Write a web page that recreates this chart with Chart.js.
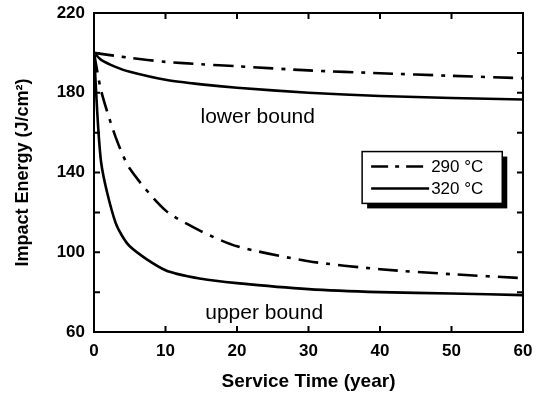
<!DOCTYPE html>
<html>
<head>
<meta charset="utf-8">
<script src="https://cdn.jsdelivr.net/npm/chart.js@4/dist/chart.umd.min.js"></script>
<style>
  html, body { margin: 0; padding: 0; background: #fff; }
  #wrap { width: 541px; height: 399px; position: relative; }
</style>
</head>
<body>
<div id="wrap"><canvas id="c" width="541" height="399"></canvas></div>
<script>
// ---- data ----
const serviceYears = [0, 1, 3, 5, 10, 15, 20, 30, 40, 50, 60];
const lowerBound290 = [200, 199.5, 198.5, 197.5, 195.5, 194.3, 193.3, 191.2, 189.8, 188.5, 187.3];
const lowerBound320 = [200, 196.5, 193, 190.5, 186.5, 184.2, 182.5, 180, 178.4, 177.4, 176.6];
const upperBound290 = [200, 181, 158, 142, 121, 110.5, 103, 95.5, 91.5, 89, 87];
const upperBound320 = [200, 145, 115, 103, 91, 86.7, 84.5, 81.5, 80, 79.3, 78.5];
const xTicks = [0, 10, 20, 30, 40, 50, 60];
const yTickLabels = [60, 100, 140, 180, 220];
const legendLabels = ['290 \u00B0C', '320 \u00B0C'];
const boundLabels = ['lower bound', 'upper bound'];

const FONT = '"Liberation Sans", Arial, Helvetica, sans-serif';
const DASHDOT = [20, 8, 4, 8];

function pts(ys) { return serviceYears.map((x, i) => ({ x: x, y: ys[i] })); }

const frameAndExtras = {
  id: 'frameAndExtras',
  afterDatasetsDraw(chart) {
    const ctx = chart.ctx;
    const a = chart.chartArea;
    const xs = chart.scales.x, ys = chart.scales.y;
    ctx.save();
    ctx.strokeStyle = '#000';
    ctx.lineWidth = 2;
    ctx.strokeRect(a.left, a.top, a.right - a.left, a.bottom - a.top);
    // inward ticks on all four sides
    const tl = 6;
    ctx.beginPath();
    xs.ticks.forEach(t => {
      const px = xs.getPixelForValue(t.value);
      ctx.moveTo(px, a.bottom); ctx.lineTo(px, a.bottom - tl);
      ctx.moveTo(px, a.top); ctx.lineTo(px, a.top + tl);
    });
    ys.ticks.forEach(t => {
      const py = ys.getPixelForValue(t.value);
      ctx.moveTo(a.left, py); ctx.lineTo(a.left + tl, py);
      ctx.moveTo(a.right, py); ctx.lineTo(a.right - tl, py);
    });
    ctx.stroke();

    // bound annotations
    ctx.fillStyle = '#000';
    ctx.font = '21px ' + FONT;
    ctx.textAlign = 'center';
    ctx.textBaseline = 'middle';
    ctx.fillText(boundLabels[0], xs.getPixelForValue(22.9), ys.getPixelForValue(167.8));
    ctx.fillText(boundLabels[1], xs.getPixelForValue(23.8), ys.getPixelForValue(69.5));

    // legend box with shadow
    const lx = xs.getPixelForValue(37.5), rx = xs.getPixelForValue(57.1);
    const ty = ys.getPixelForValue(150.5), by = ys.getPixelForValue(124.5);
    ctx.fillStyle = '#000';
    ctx.fillRect(lx + 5, ty + 5, rx - lx, by - ty);
    ctx.fillStyle = '#fff';
    ctx.fillRect(lx, ty, rx - lx, by - ty);
    ctx.lineWidth = 1.5;
    ctx.strokeRect(lx, ty, rx - lx, by - ty);
    const rows = [ys.getPixelForValue(143), ys.getPixelForValue(132)];
    ctx.font = '17px ' + FONT;
    ctx.textAlign = 'left';
    ctx.fillStyle = '#000';
    [0, 1].forEach(i => {
      ctx.beginPath();
      ctx.lineWidth = 2.5;
      ctx.setLineDash(i === 0 ? [17, 7, 4, 7] : []);
      ctx.moveTo(lx + 9, rows[i]);
      ctx.lineTo(lx + 67, rows[i]);
      ctx.stroke();
      ctx.setLineDash([]);
      ctx.fillText(legendLabels[i], lx + 69, rows[i] + 1);
    });
    ctx.restore();
  }
};

new Chart(document.getElementById('c'), {
  type: 'line',
  data: {
    datasets: [
      { label: legendLabels[0], data: pts(lowerBound290), borderDash: DASHDOT },
      { label: legendLabels[1], data: pts(lowerBound320) },
      { label: legendLabels[0], data: pts(upperBound290), borderDash: DASHDOT },
      { label: legendLabels[1], data: pts(upperBound320) }
    ].map(d => Object.assign({
      borderColor: '#000', borderWidth: 2.6, pointRadius: 0, tension: 0.25, fill: false
    }, d))
  },
  options: {
    responsive: false,
    animation: false,
    devicePixelRatio: 1,
    layout: { padding: { top: 13, right: 18, bottom: 2, left: 8 } },
    plugins: { legend: { display: false }, tooltip: { enabled: false } },
    scales: {
      x: {
        type: 'linear', min: 0, max: 60,
        afterFit(s) { s.height = 65; s.paddingLeft = 0; s.paddingRight = 0; },
        afterBuildTicks(s) { s.ticks = xTicks.map(v => ({ value: v })); },
        grid: { display: false, drawTicks: false },
        border: { display: false },
        ticks: { color: '#000', padding: 9, maxRotation: 0,
          font: { family: FONT, size: 17, weight: 'bold' } },
        title: { display: true, text: 'Service Time (year)', color: '#000',
          font: { family: FONT, size: 19, weight: 'bold' }, padding: { top: 4, bottom: 4 } }
      },
      y: {
        type: 'linear', min: 60, max: 220,
        afterFit(s) { s.width = 86; s.paddingTop = 0; s.paddingBottom = 0; },
        ticks: { stepSize: 20, color: '#000', padding: 9,
          callback: v => (yTickLabels.includes(v) ? String(v) : ''),
          font: { family: FONT, size: 17, weight: 'bold' } },
        grid: { display: false, drawTicks: false },
        border: { display: false },
        title: { display: true, text: 'Impact Energy (J/cm\u00B2)', color: '#000',
          font: { family: FONT, size: 18, weight: 'bold' }, padding: { top: 4, bottom: 4 } }
      }
    }
  },
  plugins: [frameAndExtras]
});
</script>
</body>
</html>
